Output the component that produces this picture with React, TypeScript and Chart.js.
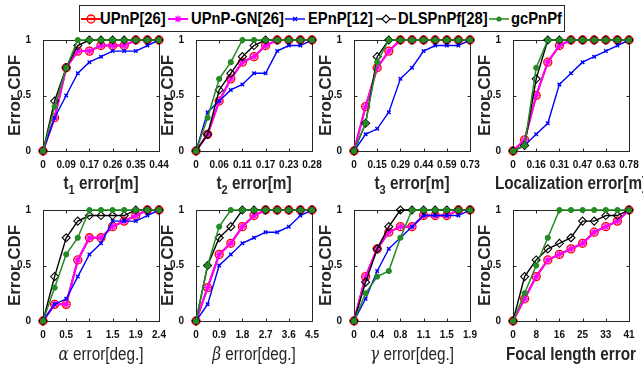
import React, { useEffect, useRef } from 'react';
import { Chart, registerables } from 'chart.js';

Chart.register(...registerables);

// ---------------- data ----------------
const SERIES_NAMES = ['UPnP[26]', 'UPnP-GN[26]', 'EPnP[12]', 'DLSPnPf[28]', 'gcPnPf'];
const Y_TICKS = [0, 0.5, 1];
const Y_TICK_LABELS = ['0', '0.5', '1'];
const X_TICK_INDEX = [0, 2, 4, 6, 8, 10];

// t1 error
const t1TickLabels = ['0', '0.09', '0.17', '0.26', '0.35', '0.44'];
const t1UPnP = [0, 0.3, 0.75, 0.9, 0.9, 0.95, 0.95, 0.95, 1, 1, 1];
const t1UPnPGN = [0, 0.3, 0.75, 0.9, 0.9, 0.95, 0.95, 0.95, 1, 1, 1];
const t1EPnP = [0, 0.3, 0.5, 0.7, 0.8, 0.85, 0.9, 0.9, 0.9, 0.95, 1];
const t1DLS = [0, 0.45, 0.75, 0.95, 1, 1, 1, 1, 1, 1, 1];
const t1gc = [0, 0.4, 0.75, 1, 1, 1, 1, 1, 1, 1, 1];

// t2 error
const t2TickLabels = ['0', '0.06', '0.11', '0.17', '0.23', '0.28'];
const t2UPnP = [0, 0.15, 0.45, 0.65, 0.8, 0.85, 0.95, 1, 1, 1, 1];
const t2UPnPGN = [0, 0.15, 0.45, 0.65, 0.8, 0.85, 0.95, 1, 1, 1, 1];
const t2EPnP = [0, 0.35, 0.45, 0.55, 0.6, 0.7, 0.7, 0.9, 0.95, 0.95, 1];
const t2DLS = [0, 0.15, 0.55, 0.7, 0.85, 0.95, 1, 1, 1, 1, 1];
const t2gc = [0, 0.3, 0.65, 0.8, 1, 1, 1, 1, 1, 1, 1];

// t3 error
const t3TickLabels = ['0', '0.15', '0.29', '0.44', '0.59', '0.73'];
const t3UPnP = [0, 0.4, 0.75, 0.9, 1, 1, 1, 1, 1, 1, 1];
const t3UPnPGN = [0, 0.4, 0.75, 0.9, 1, 1, 1, 1, 1, 1, 1];
const t3EPnP = [0, 0.15, 0.2, 0.35, 0.65, 0.75, 0.9, 0.95, 0.95, 0.95, 1];
const t3DLS = [0, 0.25, 0.85, 1, 1, 1, 1, 1, 1, 1, 1];
const t3gc = [0, 0.25, 0.8, 1, 1, 1, 1, 1, 1, 1, 1];

// localization error
const locTickLabels = ['0', '0.16', '0.31', '0.47', '0.63', '0.78'];
const locUPnP = [0, 0.1, 0.5, 0.8, 0.95, 1, 1, 1, 1, 1, 1];
const locUPnPGN = [0, 0.1, 0.5, 0.8, 0.95, 1, 1, 1, 1, 1, 1];
const locEPnP = [0, 0.05, 0.15, 0.25, 0.6, 0.7, 0.8, 0.85, 0.9, 0.95, 1];
const locDLS = [0, 0.05, 0.65, 1, 1, 1, 1, 1, 1, 1, 1];
const locgc = [0, 0.05, 0.75, 1, 1, 1, 1, 1, 1, 1, 1];

// alpha error
const alphaTickLabels = ['0', '0.5', '1', '1.5', '1.9', '2.4'];
const alphaUPnP = [0, 0.15, 0.15, 0.55, 0.75, 0.75, 0.85, 0.9, 0.95, 1, 1];
const alphaUPnPGN = [0, 0.15, 0.15, 0.55, 0.75, 0.75, 0.85, 0.9, 0.95, 1, 1];
const alphaEPnP = [0, 0.15, 0.2, 0.4, 0.6, 0.7, 0.9, 0.9, 0.9, 0.95, 1];
const alphaDLS = [0, 0.4, 0.75, 0.9, 0.95, 0.95, 0.95, 0.95, 1, 1, 1];
const alphagc = [0, 0.3, 0.6, 0.75, 1, 1, 1, 1, 1, 1, 1];

// beta error
const betaTickLabels = ['0', '0.9', '1.8', '2.7', '3.6', '4.5'];
const betaUPnP = [0, 0.3, 0.6, 0.7, 0.85, 0.95, 1, 1, 1, 1, 1];
const betaUPnPGN = [0, 0.3, 0.6, 0.7, 0.85, 0.95, 1, 1, 1, 1, 1];
const betaEPnP = [0, 0.15, 0.5, 0.6, 0.7, 0.75, 0.8, 0.8, 0.85, 0.95, 1];
const betaDLS = [0, 0.5, 0.75, 0.85, 1, 1, 1, 1, 1, 1, 1];
const betagc = [0, 0.5, 0.85, 1, 1, 1, 1, 1, 1, 1, 1];

// gamma error
const gammaTickLabels = ['0', '0.4', '0.8', '1.1', '1.5', '1.9'];
const gammaUPnP = [0, 0.4, 0.65, 0.8, 0.85, 0.85, 0.95, 0.95, 0.95, 1, 1];
const gammaUPnPGN = [0, 0.4, 0.65, 0.8, 0.85, 0.85, 0.95, 0.95, 0.95, 1, 1];
const gammaEPnP = [0, 0.2, 0.45, 0.65, 0.75, 0.85, 0.95, 0.95, 0.95, 0.95, 1];
const gammaDLS = [0, 0.35, 0.65, 0.85, 1, 1, 1, 1, 1, 1, 1];
const gammagc = [0, 0.25, 0.4, 0.45, 0.75, 1, 1, 1, 1, 1, 1];

// focal length error (EPnP does not estimate focal length)
const focalTickLabels = ['0', '8', '16', '25', '33', '41'];
const focalUPnP = [0, 0.2, 0.4, 0.55, 0.6, 0.65, 0.7, 0.8, 0.85, 0.9, 1];
const focalUPnPGN = [0, 0.2, 0.4, 0.55, 0.6, 0.65, 0.7, 0.8, 0.85, 0.9, 1];
const focalDLS = [0, 0.4, 0.55, 0.65, 0.7, 0.75, 0.9, 0.9, 0.95, 0.95, 1];
const focalgc = [0, 0.25, 0.5, 0.75, 1, 1, 1, 1, 1, 1, 1];

// ---------------- styles ----------------
const FONT = "'Liberation Sans', Arial, Helvetica, sans-serif";
const GREEN = '#228b22';
const SERIES_STYLE = [
  { color: '#ff0000', pointStyle: 'circle', radius: 4, lineWidth: 2, pointBorder: 1.3, bg: 'rgba(255,0,0,0.15)', order: 5 },
  { color: '#ff00ff', pointStyle: 'star', radius: 3.5, lineWidth: 2, pointBorder: 1.2, bg: '#ff00ff', order: 4 },
  { color: '#0000ff', pointStyle: 'crossRot', radius: 2.5, lineWidth: 1.4, pointBorder: 1.4, bg: '#0000ff', order: 3 },
  { color: '#000000', pointStyle: 'rectRot', radius: 4, lineWidth: 1.4, pointBorder: 1.1, bg: 'rgba(0,0,0,0)', order: 2 },
  { color: GREEN, pointStyle: 'circle', radius: 2.6, lineWidth: 1.5, pointBorder: 1, bg: GREEN, order: 1 },
];

type PanelDef = {
  tickLabels: string[];
  series: (number[] | null)[];
  title: React.ReactNode;
  bold: boolean;
};

const SUB = { fontSize: 13, verticalAlign: -5, lineHeight: 0 } as const;
const GREEK = { fontFamily: "'DejaVu Serif', 'Liberation Serif', serif" } as const;

const PANELS: PanelDef[] = [
  { tickLabels: t1TickLabels, series: [t1UPnP, t1UPnPGN, t1EPnP, t1DLS, t1gc], bold: true,
    title: <>t<sub style={SUB}>1</sub> error[m]</> },
  { tickLabels: t2TickLabels, series: [t2UPnP, t2UPnPGN, t2EPnP, t2DLS, t2gc], bold: true,
    title: <>t<sub style={SUB}>2</sub> error[m]</> },
  { tickLabels: t3TickLabels, series: [t3UPnP, t3UPnPGN, t3EPnP, t3DLS, t3gc], bold: true,
    title: <>t<sub style={SUB}>3</sub> error[m]</> },
  { tickLabels: locTickLabels, series: [locUPnP, locUPnPGN, locEPnP, locDLS, locgc], bold: true,
    title: <>Localization error[m]</> },
  { tickLabels: alphaTickLabels, series: [alphaUPnP, alphaUPnPGN, alphaEPnP, alphaDLS, alphagc], bold: false,
    title: <><i style={GREEK}>α</i> error[deg.]</> },
  { tickLabels: betaTickLabels, series: [betaUPnP, betaUPnPGN, betaEPnP, betaDLS, betagc], bold: false,
    title: <><i style={GREEK}>β</i> error[deg.]</> },
  { tickLabels: gammaTickLabels, series: [gammaUPnP, gammaUPnPGN, gammaEPnP, gammaDLS, gammagc], bold: false,
    title: <><i style={GREEK}>γ</i> error[deg.]</> },
  { tickLabels: focalTickLabels, series: [focalUPnP, focalUPnPGN, null, focalDLS, focalgc], bold: true,
    title: <>Focal length error</> },
];

// layout
const COL_LEFT = [43, 196, 354, 513];
const ROW_TOP = [37, 207];
const PLOT_W = 116;
const PLOT_H = 114;
const Y_AXIS_W = 43;
const X_AXIS_H = 24;
const PAD_T = 7;
const PAD_R = 16;
const CANVAS_W = Y_AXIS_W + PLOT_W + PAD_R;
const CANVAS_H = PAD_T + PLOT_H + X_AXIS_H;
const TITLE_Y = [183, 354];

const boxPlugin = {
  id: 'matlabBox',
  beforeDatasetsDraw(chart: any) {
    const { ctx, chartArea: a, scales } = chart;
    ctx.save();
    ctx.strokeStyle = '#262626';
    ctx.lineWidth = 1;
    const l = Math.round(a.left) + 0.5;
    const t = Math.round(a.top) + 0.5;
    const r = Math.round(a.right) + 0.5;
    const b = Math.round(a.bottom) + 0.5;
    ctx.strokeRect(l, t, r - l, b - t);
    const L = 3;
    ctx.beginPath();
    for (const v of X_TICK_INDEX) {
      const x = Math.round(scales.x.getPixelForValue(v)) + 0.5;
      ctx.moveTo(x, b); ctx.lineTo(x, b - L);
      ctx.moveTo(x, t); ctx.lineTo(x, t + L);
    }
    for (const v of Y_TICKS) {
      const y = Math.round(scales.y.getPixelForValue(v)) + 0.5;
      ctx.moveTo(l, y); ctx.lineTo(l + L, y);
      ctx.moveTo(r, y); ctx.lineTo(r - L, y);
    }
    ctx.stroke();
    ctx.restore();
  },
};

function Panel({ def, col, row }: { def: PanelDef; col: number; row: number }) {
  const ref = useRef<HTMLCanvasElement>(null);
  useEffect(() => {
    const datasets: any[] = [];
    def.series.forEach((vals, si) => {
      if (!vals) return;
      const st = SERIES_STYLE[si];
      datasets.push({
        label: SERIES_NAMES[si],
        data: vals.map((y, i) => ({ x: i, y })),
        borderColor: st.color,
        backgroundColor: st.bg,
        borderWidth: st.lineWidth,
        pointStyle: st.pointStyle,
        pointRadius: st.radius,
        pointBorderColor: st.color,
        pointBackgroundColor: st.bg,
        pointBorderWidth: st.pointBorder,
        order: st.order,
        clip: false,
        tension: 0,
        fill: false,
      });
    });
    const chart = new Chart(ref.current!, {
      type: 'line',
      data: { datasets },
      plugins: [boxPlugin],
      options: {
        animation: false,
        responsive: false,
        devicePixelRatio: 1,
        layout: { padding: { top: PAD_T, right: PAD_R, left: 0, bottom: 0 } },
        plugins: { legend: { display: false }, tooltip: { enabled: false } },
        scales: {
          x: {
            type: 'linear',
            min: 0,
            max: 10,
            grid: { display: false },
            border: { display: false },
            afterBuildTicks: (s: any) => { s.ticks = X_TICK_INDEX.map((v) => ({ value: v })); },
            afterFit: (s: any) => { s.height = X_AXIS_H; },
            ticks: {
              autoSkip: false,
              maxRotation: 0,
              padding: 0,
              color: '#111',
              font: { family: FONT, size: 10, weight: 'bold' },
              callback: (_v: any, i: number) => def.tickLabels[i],
            },
          },
          y: {
            type: 'linear',
            min: 0,
            max: 1,
            grid: { display: false },
            border: { display: false },
            afterBuildTicks: (s: any) => { s.ticks = Y_TICKS.map((v) => ({ value: v })); },
            afterFit: (s: any) => { s.width = Y_AXIS_W; },
            ticks: {
              padding: 4,
              color: '#111',
              font: { family: FONT, size: 10, weight: 'bold' },
              callback: (_v: any, i: number) => Y_TICK_LABELS[i],
            },
            title: {
              display: true,
              text: 'Error CDF',
              color: '#262626',
              font: { family: FONT, size: 17, weight: 'bold' },
              padding: { top: 5, bottom: 0 },
            },
          },
        },
      } as any,
    });
    return () => chart.destroy();
  }, []);
  const left = COL_LEFT[col] - Y_AXIS_W;
  const top = ROW_TOP[row] - PAD_T;
  return (
    <>
      <canvas
        ref={ref}
        width={CANVAS_W}
        height={CANVAS_H}
        style={{ position: 'absolute', left, top, width: CANVAS_W, height: CANVAS_H }}
      />
      <div
        style={{
          position: 'absolute',
          left: COL_LEFT[col] + PLOT_W / 2 - 110,
          width: 220,
          top: TITLE_Y[row] - 11,
          height: 22,
          lineHeight: '22px',
          textAlign: 'center',
          fontFamily: FONT,
          fontSize: 18,
          fontWeight: def.bold ? 'bold' : 'normal',
          color: '#262626',
          transform: 'scaleX(0.85)',
          whiteSpace: 'nowrap',
        }}
      >
        {def.title}
      </div>
    </>
  );
}

const LEGEND_ITEMS = [
  { seg: 81, text: 100 },
  { seg: 168, text: 191 },
  { seg: 285, text: 308 },
  { seg: 376, text: 398 },
  { seg: 489, text: 511 },
];

function LegendMarker({ si }: { si: number }) {
  const st = SERIES_STYLE[si];
  const c = st.color;
  let marker: React.ReactNode = null;
  if (si === 0) marker = <circle cx={10} cy={7} r={4} fill="rgba(255,0,0,0.15)" stroke={c} strokeWidth={1.3} />;
  if (si === 1) marker = <path d="M10 3.5 V10.5 M6.5 7 H13.5 M7.5 4.5 L12.5 9.5 M12.5 4.5 L7.5 9.5" stroke={c} strokeWidth={1.2} />;
  if (si === 2) marker = <path d="M8 5 L12 9 M12 5 L8 9" stroke={c} strokeWidth={1.4} />;
  if (si === 3) marker = <path d="M10 3 L14 7 L10 11 L6 7 Z" fill="#fff" stroke={c} strokeWidth={1.1} />;
  if (si === 4) marker = <circle cx={10} cy={7} r={2.6} fill={c} />;
  return (
    <svg width={20} height={14} style={{ display: 'block' }}>
      <line x1={0} y1={7} x2={20} y2={7} stroke={c} strokeWidth={st.lineWidth} />
      {marker}
    </svg>
  );
}

function Legend() {
  return (
    <>
      <div
        style={{
          position: 'absolute',
          left: 79,
          top: 5,
          width: 486,
          height: 27,
          boxSizing: 'border-box',
          border: '1px solid #262626',
          background: '#fff',
        }}
      />
      {LEGEND_ITEMS.map((it, si) => (
        <React.Fragment key={si}>
          <div style={{ position: 'absolute', left: it.seg, top: 12 }}>
            <LegendMarker si={si} />
          </div>
          <div
            style={{
              position: 'absolute',
              left: it.text,
              top: 8,
              height: 22,
              lineHeight: '22px',
              fontFamily: FONT,
              fontWeight: 'bold',
              fontSize: 17,
              color: '#000',
              transform: 'scaleX(0.87)',
              transformOrigin: 'left center',
              whiteSpace: 'nowrap',
            }}
          >
            {SERIES_NAMES[si]}
          </div>
        </React.Fragment>
      ))}
    </>
  );
}

export default function App() {
  return (
    <div
      style={{
        position: 'fixed',
        left: 0,
        top: 0,
        width: 643,
        height: 365,
        background: '#fff',
        overflow: 'hidden',
      }}
    >
      {PANELS.map((p, i) => (
        <Panel key={i} def={p} col={i % 4} row={Math.floor(i / 4)} />
      ))}
      <Legend />
    </div>
  );
}
